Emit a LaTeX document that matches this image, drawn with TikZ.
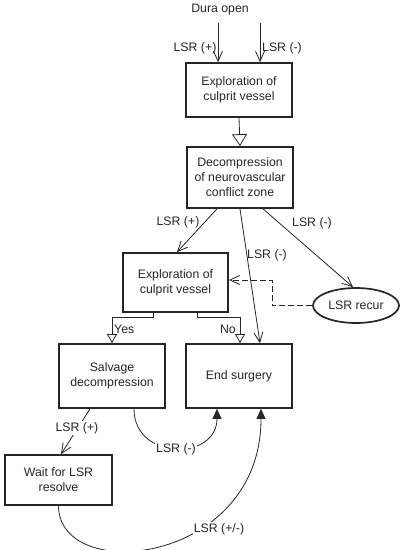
\documentclass[tikz,border=0pt]{standalone}
\usepackage{fontspec}
\setmainfont{Liberation Sans}
\usetikzlibrary{arrows.meta,shapes.geometric}
\begin{document}
\begin{tikzpicture}[x=1pt,y=-1pt,
  every node/.style={font=\fontsize{12.3}{15}\selectfont, text=black!85},
  box/.style={draw=black!85, line width=1.7pt, rectangle, inner sep=0pt, align=center},
  conn/.style={draw=black!85, line width=0.8pt},
  openv/.style={conn, -{Straight Barb[length=10pt,width=9pt,line width=0.8pt]}},
  bigtri/.style={conn, -{Triangle[open,length=12pt,width=15pt,line width=0.8pt]}},
  smalltri/.style={conn, -{Triangle[open,length=9pt,width=10pt,line width=0.8pt]}},
  filltri/.style={conn, -{Triangle[length=10pt,width=9pt]}},
  lbl/.style={inner sep=1pt, fill=white},
]
\useasboundingbox (0,0) rectangle (401,550);

\node (dura) at (220,10) {Dura open};
\coordinate (t1) at (218,23);
\coordinate (t2) at (260,23);

\node[box, minimum width=106pt, minimum height=54pt] (b1) at (239,90) {Exploration of\\culprit vessel};
\node[box, minimum width=106pt, minimum height=61pt] (b2) at (240,177.5) {Decompression\\of neurovascular\\conflict zone};
\node[box, minimum width=105pt, minimum height=59pt] (b3) at (175.5,282.5) {Exploration of\\culprit vessel};
\node[draw=black!85, line width=1.7pt, ellipse, inner sep=0pt, minimum width=86pt, minimum height=35pt] (rec) at (356,305.5) {LSR recur};
\node[box, minimum width=106pt, minimum height=64pt] (salv) at (112,376) {Salvage\\decompression};
\node[box, minimum width=106pt, minimum height=64pt] (ends) at (239,376) {End surgery};
\node[box, minimum width=107pt, minimum height=50pt] (wait) at (58.5,480) {Wait for LSR\\resolve};

% top inputs
\draw[openv] (t1) -- (t1 |- b1.north);
\draw[openv] (t2) -- (t2 |- b1.north);
\node (l1) at (195,48) {LSR (+)};
\node (l2) at (282,48) {LSR (-)};

\draw[bigtri] (b1.south) -- (b2.north);

% from decompression
\draw[openv] ([xshift=-23pt]b2.south) -- ([xshift=1.5pt]b3.north);
\node (l3) at (178,222) {LSR (+)};
\draw[openv] (b2.south) -- ([xshift=21pt]ends.north);
\node (l4) at (267,255) {LSR (-)};
\draw[openv] ([xshift=23pt]b2.south) -- ([xshift=-3pt]rec.north);
\node (l5) at (312,223) {LSR (-)};

% dashed feedback
\coordinate (d1) at (272,305.5);
\coordinate (d2) at (272,280);
\draw[openv, dashed, dash pattern=on 6pt off 3pt] (rec.west) -- (d1) -- (d2) -- (d2 -| b3.east);

% yes / no
\coordinate (y1) at (153,317);
\coordinate (y2) at (112,317);
\draw[smalltri] (y1 |- b3.south) -- (y1) -- (y2) -- (y2 |- salv.north);
\node[anchor=west, inner sep=1pt] (yes) at (113,329) {Yes};
\coordinate (n1) at (197,317);
\coordinate (n2) at (240,317);
\draw[smalltri] (n1 |- b3.south) -- (n1) -- (n2) -- (n2 |- ends.north);
\node[anchor=east, inner sep=1pt] (no) at (237,329) {No};

% salvage -> wait
\draw[openv] ([xshift=-22pt]salv.south) -- ([xshift=2.5pt]wait.north);
\node[lbl] (l6) at (77,428) {LSR (+)};

% salvage -> end surgery
\draw[filltri] ([xshift=22pt]salv.south) .. controls (134,461) and (217,461) .. ([xshift=-22pt]ends.south);
\node[lbl] (l7) at (176,449) {LSR (-)};

% wait -> end surgery
\draw[filltri] (wait.south) .. controls (59,585) and (261,565) .. ([xshift=22pt]ends.south);
\node[lbl] (l8) at (219,529) {LSR (+/-)};
\end{tikzpicture}
\end{document}
